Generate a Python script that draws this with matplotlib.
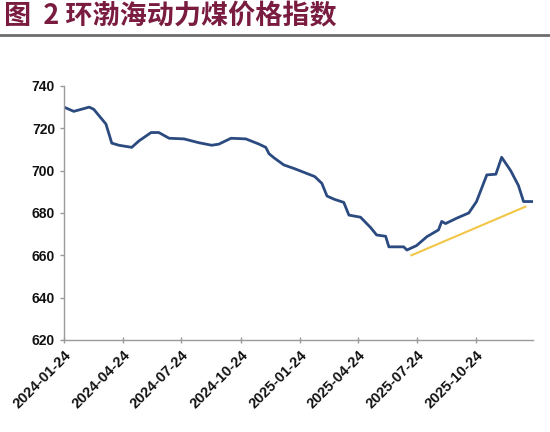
import matplotlib.pyplot as plt
import matplotlib.dates as mdates
import pandas as pd
from matplotlib.lines import Line2D

# 环渤海动力煤价格指数
dates = ['2024-01-24', '2024-02-08', '2024-03-03', '2024-03-10', '2024-03-29',
         '2024-04-07', '2024-04-18', '2024-05-08', '2024-05-19', '2024-06-07',
         '2024-06-19', '2024-07-05', '2024-07-28', '2024-08-20', '2024-09-09',
         '2024-09-20', '2024-10-09', '2024-11-01', '2024-11-21', '2024-12-02',
         '2024-12-07', '2024-12-15', '2024-12-30', '2025-01-15', '2025-02-16',
         '2025-02-27', '2025-03-07', '2025-03-18', '2025-04-02', '2025-04-10',
         '2025-04-28', '2025-05-14', '2025-05-23', '2025-06-06', '2025-06-11',
         '2025-07-04', '2025-07-09', '2025-07-24', '2025-08-09', '2025-08-27',
         '2025-09-01', '2025-09-07', '2025-09-24', '2025-10-13', '2025-10-25',
         '2025-11-10', '2025-11-24', '2025-12-03', '2025-12-17', '2025-12-29',
         '2026-01-06', '2026-01-19']
values = [730, 728, 730, 729, 722,
          713, 712, 711, 714, 718,
          718, 715.3, 715, 713.2, 712,
          712.5, 715.3, 715, 712.6, 711,
          708, 706, 702.7, 701, 697.2,
          694, 688, 686.5, 685, 679,
          678, 673, 669.6, 669, 664,
          664, 662.5, 664.6, 668.8, 672,
          676, 675, 677.5, 680, 685.4,
          698, 698.3, 706.3, 700, 693,
          685.4, 685.4]

# 趋势线
trend_dates = ['2025-07-16', '2026-01-09']
trend_values = [660, 683]

tick_dates = ['2024-01-24', '2024-04-24', '2024-07-24', '2024-10-24',
              '2025-01-24', '2025-04-24', '2025-07-24', '2025-10-24']
yticks = [620, 640, 660, 680, 700, 720, 740]

x = pd.to_datetime(dates)
xt = pd.to_datetime(trend_dates)
ticks = pd.to_datetime(tick_dates)

fig = plt.figure(figsize=(5.5, 4.32), dpi=100)
ax = fig.add_axes([0.1165, 0.213, 0.853, 0.588])

ax.plot(x, values, color='#2B4A80', linewidth=2.0)
ax.plot(xt, trend_values, color='#F2C646', linewidth=1.5)

ax.set_ylim(620, 740)
ax.set_xlim(pd.Timestamp('2024-01-24'), pd.Timestamp('2026-01-21'))
ax.set_yticks(yticks)
ax.set_xticks(ticks)
ax.xaxis.set_major_formatter(mdates.DateFormatter('%Y-%m-%d'))

for s in ['top', 'right']:
    ax.spines[s].set_visible(False)
for s in ['left', 'bottom']:
    ax.spines[s].set_color('#9a9a9a')
    ax.spines[s].set_linewidth(1)

ax.tick_params(axis='both', colors='#9a9a9a', length=3, width=1)
ax.tick_params(axis='x', direction='inout', length=4)
for lab in ax.get_yticklabels():
    lab.set_fontfamily('Liberation Sans')
    lab.set_fontweight('bold')
    lab.set_fontsize(10)
    lab.set_color('#111111')
for lab in ax.get_xticklabels():
    lab.set_fontfamily('Liberation Sans')
    lab.set_fontweight('bold')
    lab.set_fontsize(10.5)
    lab.set_color('#111111')
    lab.set_rotation(45)
    lab.set_ha('right')
    lab.set_rotation_mode('anchor')

fig.text(0.008, 0.963, '图  2 环渤海动力煤价格指数', fontsize=19.5, fontweight='bold',
         color='#7A1C40', va='center', ha='left',
         family=['Noto Sans CJK SC', 'DejaVu Sans'])
fig.add_artist(Line2D([0, 1], [0.919, 0.919], color='#6e6e6e', linewidth=2,
                      transform=fig.transFigure))

fig.savefig('out.png', dpi=100)
